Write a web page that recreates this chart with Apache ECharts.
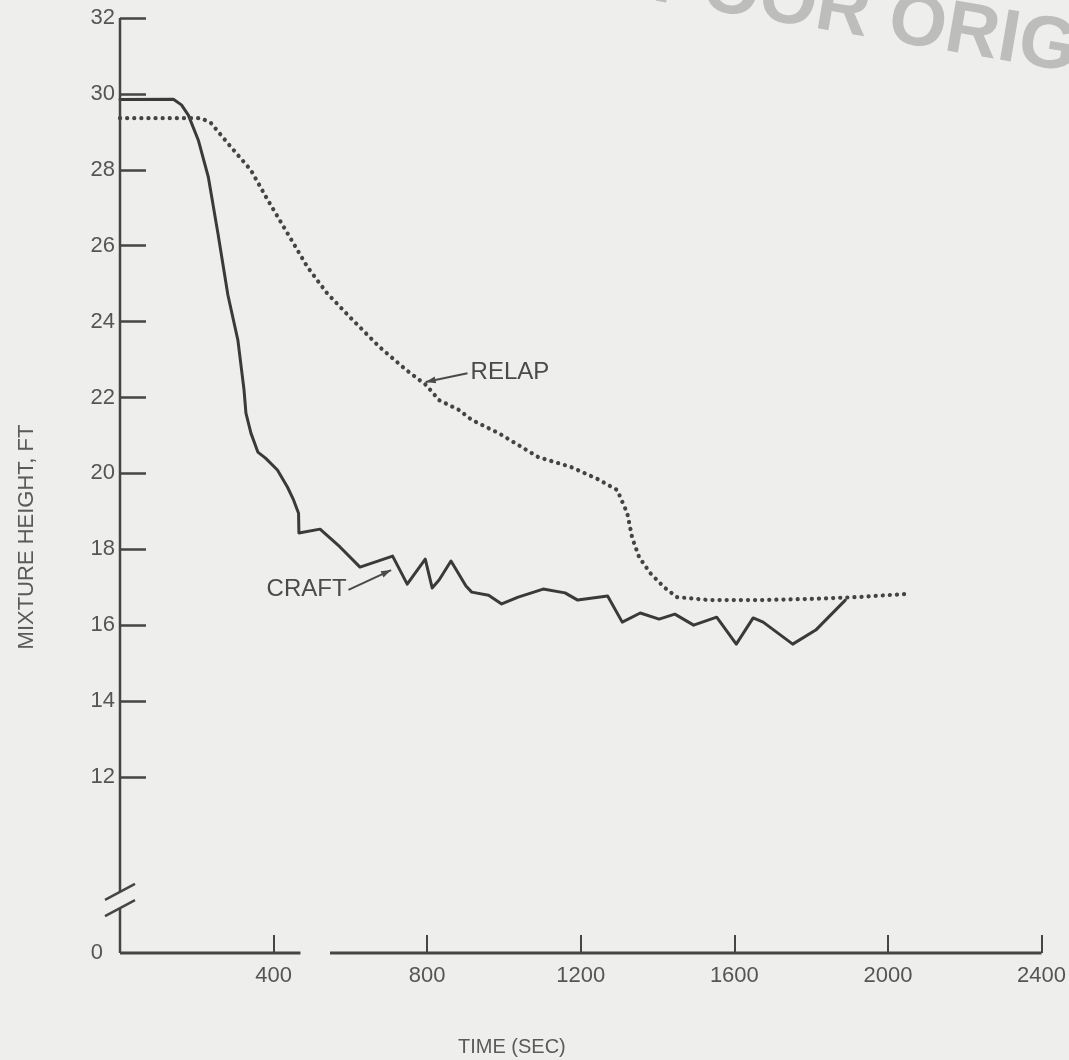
<!DOCTYPE html>
<html><head><meta charset="utf-8">
<script src="https://cdn.jsdelivr.net/npm/echarts@6/dist/echarts.min.js"></script>
<style>html,body{margin:0;padding:0;background:#eeeeec}#c{width:1069px;height:1060px}</style>
</head><body><div id="c"></div>
<script>
// ---- data (time in s, mixture height in ft) ----
const craftTime   = [0, 139, 160, 178, 204, 230, 255, 281, 307, 323, 328, 341, 359, 379, 410, 436, 452, 465, 466, 521, 573, 625, 710, 748, 795, 813, 831, 862, 901, 916, 960, 994, 1037, 1102, 1159, 1192, 1270, 1308, 1355, 1404, 1445, 1494, 1554, 1605, 1649, 1675, 1752, 1812, 1889];
const craftHeight = [29.85, 29.86, 29.71, 29.44, 28.78, 27.81, 26.33, 24.70, 23.51, 22.20, 21.59, 21.06, 20.56, 20.40, 20.09, 19.64, 19.30, 18.95, 18.43, 18.53, 18.06, 17.53, 17.82, 17.08, 17.74, 16.98, 17.19, 17.69, 17.03, 16.87, 16.79, 16.56, 16.74, 16.95, 16.85, 16.66, 16.77, 16.08, 16.32, 16.16, 16.29, 16.00, 16.21, 15.50, 16.19, 16.08, 15.50, 15.87, 16.66];
const relapTime   = [0, 212, 237, 289, 341, 385, 436, 488, 539, 606, 676, 746, 797, 831, 883, 916, 986, 1089, 1174, 1244, 1295, 1321, 1334, 1352, 1381, 1417, 1450, 1535, 1665, 1794, 1923, 2044];
const relapHeight = [29.36, 29.36, 29.23, 28.60, 27.99, 27.20, 26.33, 25.44, 24.75, 24.04, 23.33, 22.72, 22.33, 21.93, 21.67, 21.41, 21.06, 20.43, 20.17, 19.85, 19.56, 18.95, 18.30, 17.79, 17.37, 17.00, 16.74, 16.66, 16.66, 16.69, 16.74, 16.82];
const xTickValues = [400, 800, 1200, 1600, 2000, 2400];
const yTickValues = [12, 14, 16, 18, 20, 22, 24, 26, 28, 30, 32];
const yAxisBottom = 7.36;          // broken axis: bottom of the axis is labelled "0"
const yBreak = [8.54, 8.97];       // gap in the y axis line (break marks)
const xBreak = [470, 547];         // gap in the x axis line
const yTitle = 'MIXTURE HEIGHT, FT';
const xTitle = 'TIME (SEC)';
const labels = [
  {text: 'RELAP', at: [913, 22.67], align: 'left',  from: [905, 22.64], to: [796, 22.41]},
  {text: 'CRAFT', at: [590, 16.95], align: 'right', from: [595, 16.93], to: [706, 17.45]}
];

const ink = '#3a3a3a', textInk = '#555555', axisInk = '#454545';
const FONT = '"Liberation Sans", Arial, sans-serif';

const chart = echarts.init(document.getElementById('c'), null, {renderer: 'canvas'});
const zip = (a, b) => a.map((v, i) => [v, b[i]]);

chart.setOption({
  backgroundColor: '#eeeeec',
  animation: false,
  grid: {left: 120, right: 21, top: 18, bottom: 107},
  xAxis: {
    type: 'value', min: 0, max: 2400,
    axisLine: {show: false},
    splitLine: {show: false},
    axisTick: {show: true, inside: true, length: 18, customValues: xTickValues,
      lineStyle: {color: axisInk, width: 2}},
    axisLabel: {customValues: xTickValues, margin: 12, color: textInk,
      fontSize: 22, fontFamily: FONT, formatter: v => String(v)}
  },
  yAxis: {
    type: 'value', min: yAxisBottom, max: 32,
    axisLine: {show: false},
    splitLine: {show: false},
    axisTick: {show: true, inside: true, length: 26, customValues: yTickValues,
      lineStyle: {color: axisInk, width: 2.5}},
    axisLabel: {customValues: [yAxisBottom].concat(yTickValues), margin: 5, color: textInk,
      fontSize: 22, fontFamily: FONT,
      formatter: v => v < 10 ? '{z|0}' : String(v),
      rich: {z: {fontSize: 22, fontFamily: FONT, color: textInk, padding: [0, 12, 0, 0]}}}
  },
  series: [
    {name: 'CRAFT', type: 'line', data: zip(craftTime, craftHeight), symbol: 'none',
      lineStyle: {color: ink, width: 3, join: 'round', cap: 'round'}},
    {name: 'RELAP', type: 'line', data: zip(relapTime, relapHeight), symbol: 'none',
      lineStyle: {color: '#444444', width: 4.2, type: [0.1, 7], cap: 'round'}}
  ]
});

function px(p) { return chart.convertToPixel({gridIndex: 0}, p); }
function line(a, b, w, c) {
  return {type: 'line', silent: true, z: 10,
    shape: {x1: a[0], y1: a[1], x2: b[0], y2: b[1]},
    style: {stroke: c || axisInk, lineWidth: w || 2.5, lineCap: 'butt'}};
}
const g = [];
// y axis line with break
g.push(line(px([0, yAxisBottom]), px([0, yBreak[0]])));
g.push(line(px([0, yBreak[1]]), px([0, 32])));
[yBreak[0], yBreak[1]].forEach(v => {
  const p = px([0, v]);
  g.push(line([p[0] - 15, p[1] + 8], [p[0] + 15, p[1] - 8], 2.5));
});
// x axis line with gap
g.push(line(px([0, yAxisBottom]), px([xBreak[0], yAxisBottom]), 3));
g.push(line(px([xBreak[1], yAxisBottom]), px([2400, yAxisBottom]), 3));
// annotations
labels.forEach(l => {
  const a = px(l.at), s = px(l.from), e = px(l.to);
  g.push({type: 'text', silent: true, z: 10, x: a[0], y: a[1],
    style: {text: l.text, fill: '#4a4a4a', font: '24px ' + FONT, align: l.align, verticalAlign: 'middle'}});
  g.push(line(s, e, 2, '#4a4a4a'));
  const dx = e[0] - s[0], dy = e[1] - s[1], L = Math.hypot(dx, dy), ux = dx / L, uy = dy / L;
  g.push({type: 'polygon', silent: true, z: 10, shape: {points: [
    [e[0], e[1]],
    [e[0] - 10 * ux - 3.5 * uy, e[1] - 10 * uy + 3.5 * ux],
    [e[0] - 10 * ux + 3.5 * uy, e[1] - 10 * uy - 3.5 * ux]]},
    style: {fill: '#4a4a4a'}});
});
// axis titles
g.push({type: 'text', silent: true, x: 27, y: 537, rotation: Math.PI / 2,
  style: {text: yTitle, fill: '#5a5a5a', font: '22px ' + FONT, align: 'center', verticalAlign: 'middle'}});
g.push({type: 'text', silent: true, x: 458, y: 1047,
  style: {text: xTitle, fill: '#5a5a5a', font: '20px ' + FONT, align: 'left', verticalAlign: 'middle'}});
// faded stamp at the top right
g.push({type: 'text', silent: true, x: 648, y: 16, rotation: -0.17,
  style: {text: 'POOR ORIGINAL', fill: 'rgba(140,140,140,0.5)', font: 'bold 74px ' + FONT,
    align: 'left', verticalAlign: 'bottom'}});
chart.setOption({graphic: g});
</script>
</body></html>
